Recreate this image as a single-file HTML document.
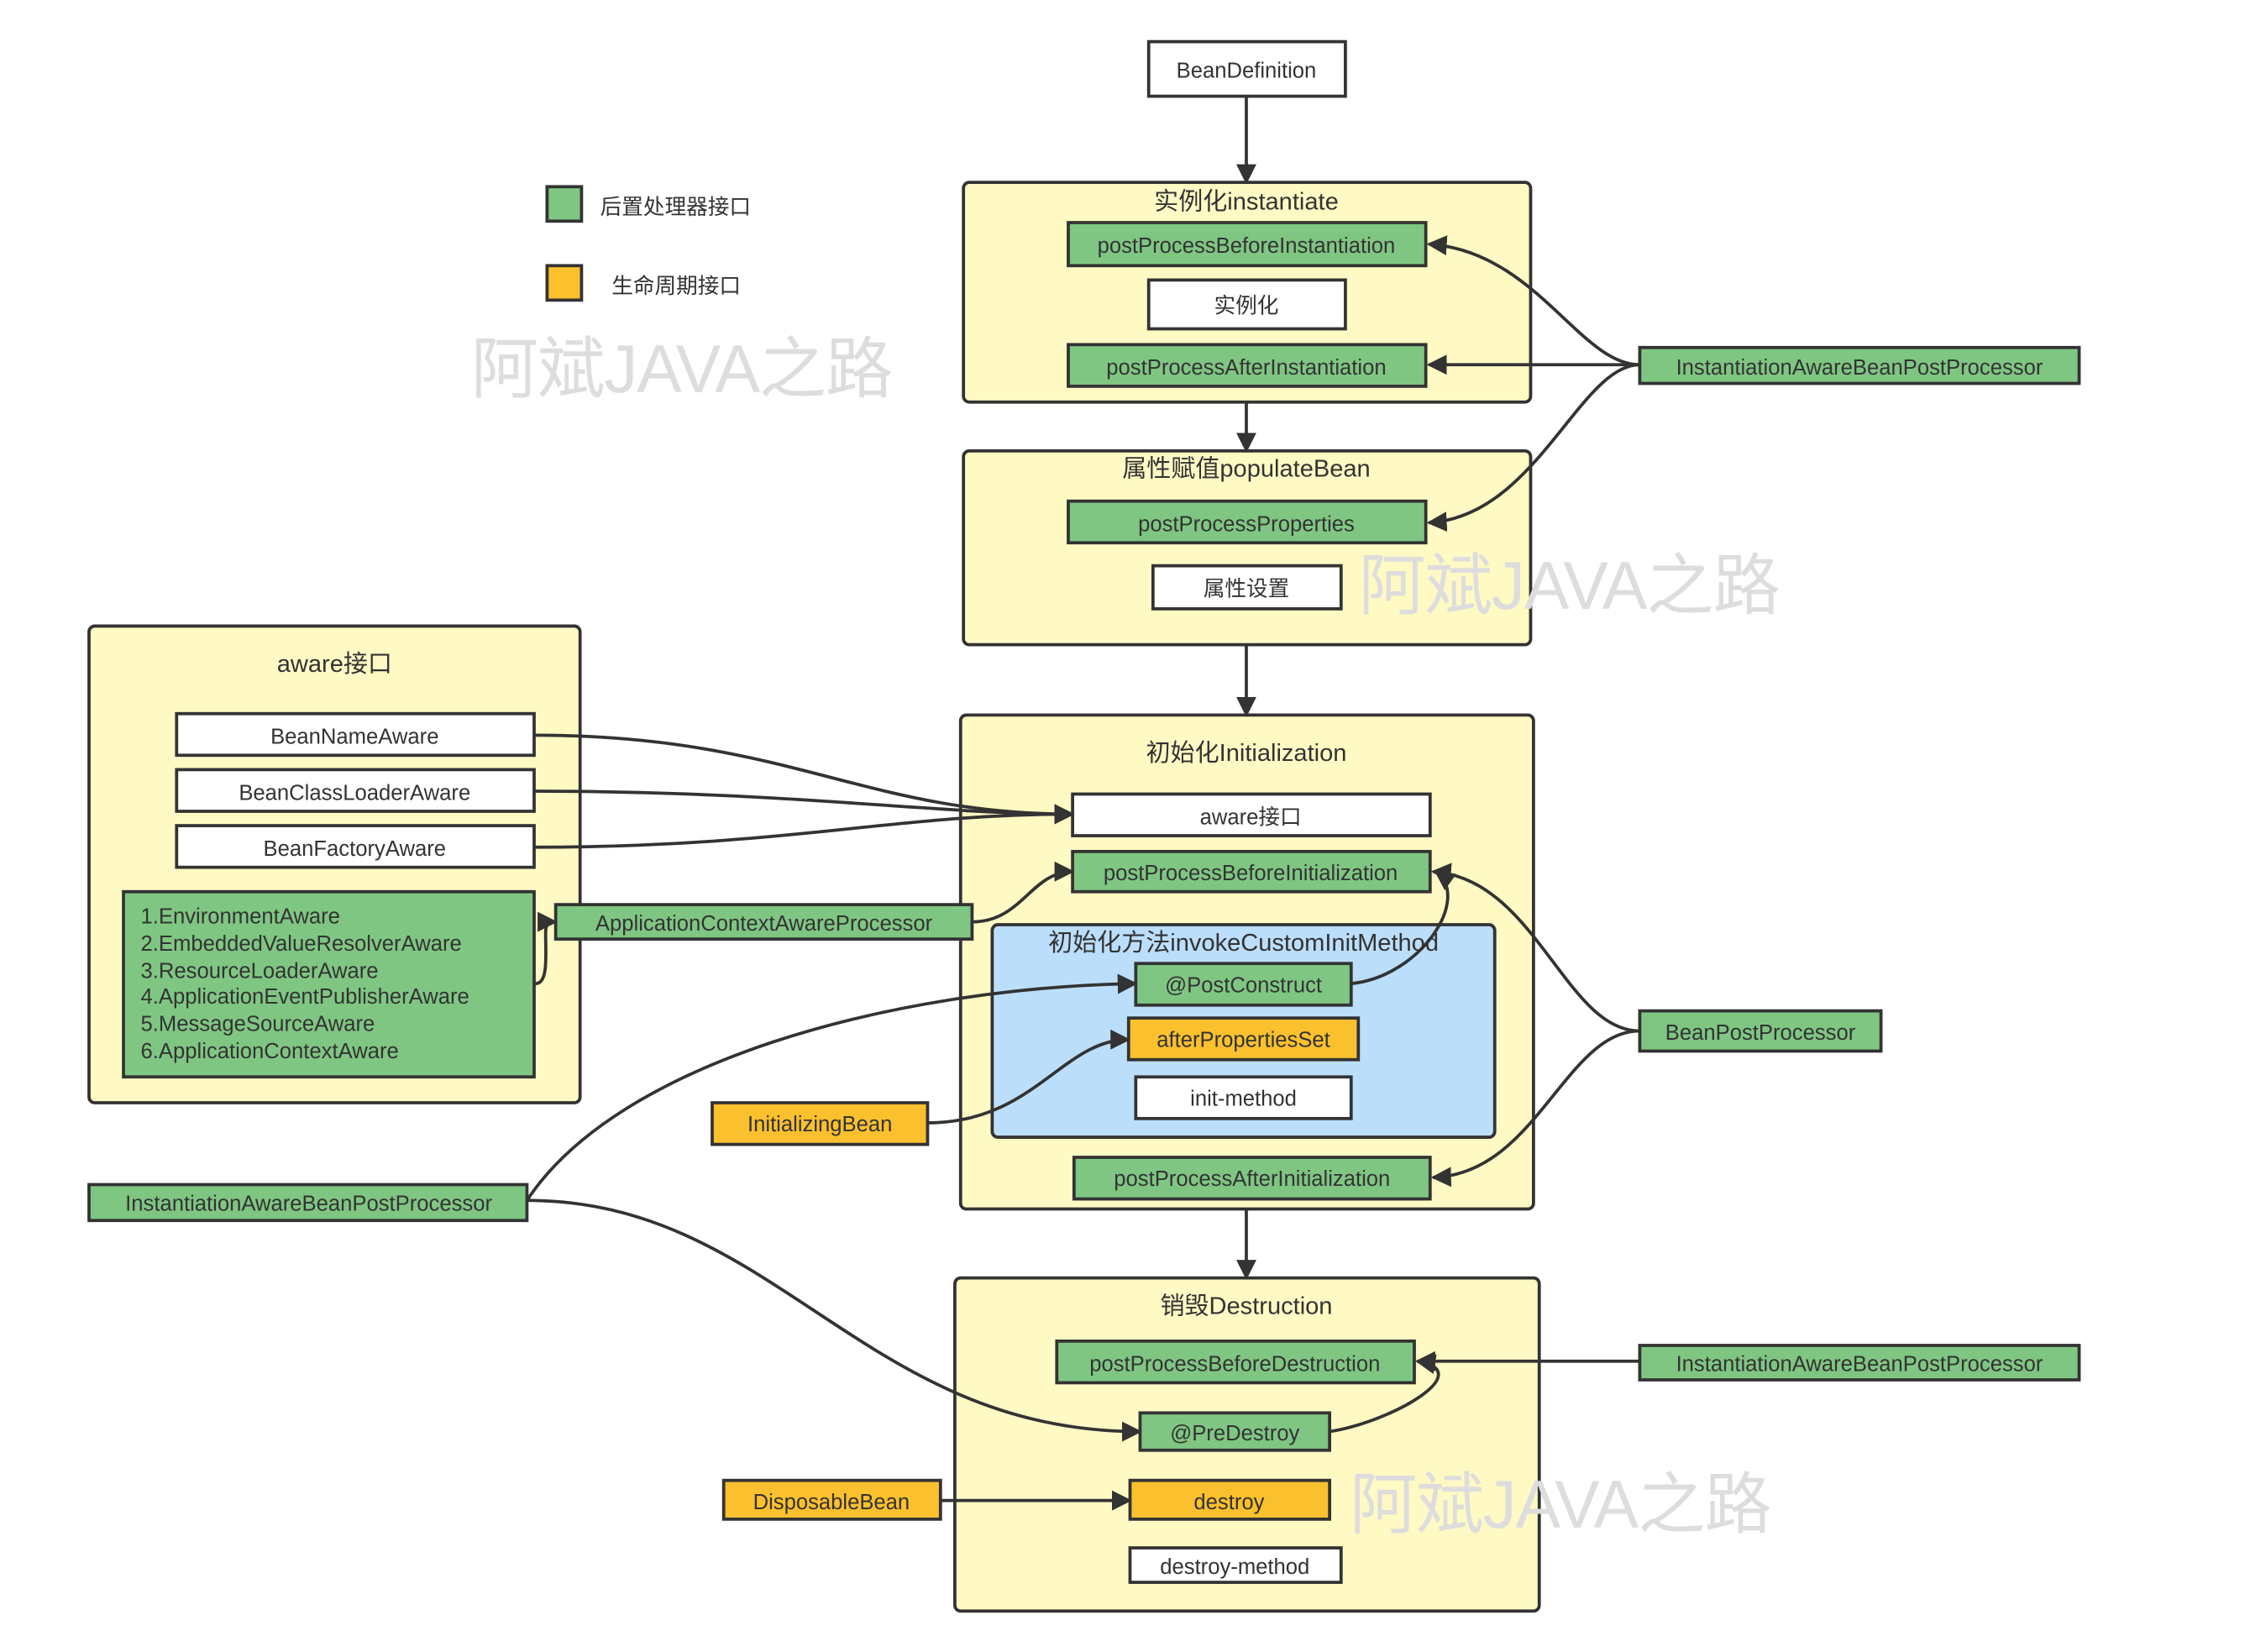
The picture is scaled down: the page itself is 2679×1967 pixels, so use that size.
<!DOCTYPE html>
<html><head><meta charset="utf-8"><style>
html,body{margin:0;padding:0;background:#fff;}
svg{display:block;}
text{font-family:"Liberation Sans","Noto Sans CJK SC",sans-serif;fill:#333;}
</style></head><body>
<svg width="2679" height="1967" viewBox="0 0 1567 1150.5" xmlns="http://www.w3.org/2000/svg">
<defs>
<marker id="b" viewBox="0 0 10 10" refX="9" refY="5" markerWidth="14" markerHeight="14" orient="auto" markerUnits="userSpaceOnUse">
<path d="M0,0 L10,5 L0,10 Z" fill="#333"/></marker>
</defs>
<g stroke="#333" stroke-width="2.2">
<rect x="671" y="127" width="395" height="153" rx="4" fill="#fff9c4"/>
<rect x="671" y="314" width="395" height="135" rx="4" fill="#fff9c4"/>
<rect x="62" y="436" width="342" height="332" rx="4" fill="#fff9c4"/>
<rect x="669" y="498" width="399" height="344" rx="4" fill="#fff9c4"/>
<rect x="691" y="644" width="350" height="148" rx="4" fill="#bbdefb"/>
<rect x="665" y="890" width="407" height="232" rx="4" fill="#fff9c4"/>
<rect x="800" y="29" width="137" height="38" fill="#fff"/>
<rect x="744" y="155" width="249" height="30" fill="#7fc682"/>
<rect x="800" y="195" width="137" height="34" fill="#fff"/>
<rect x="744" y="240" width="249" height="29" fill="#7fc682"/>
<rect x="1142" y="242" width="306" height="25" fill="#7fc682"/>
<rect x="744" y="349" width="249" height="29" fill="#7fc682"/>
<rect x="803" y="394" width="131" height="30" fill="#fff"/>
<rect x="123" y="497" width="249" height="29" fill="#fff"/>
<rect x="123" y="536" width="249" height="29" fill="#fff"/>
<rect x="123" y="575" width="249" height="29" fill="#fff"/>
<rect x="86" y="621" width="286" height="129" fill="#7fc682"/>
<rect x="387" y="630" width="290" height="24" fill="#7fc682"/>
<rect x="747" y="553" width="249" height="29" fill="#fff"/>
<rect x="747" y="593" width="249" height="28" fill="#7fc682"/>
<rect x="791" y="671" width="150" height="29" fill="#7fc682"/>
<rect x="786" y="709" width="160" height="29" fill="#fbc02d"/>
<rect x="791" y="750" width="150" height="29" fill="#fff"/>
<rect x="748" y="806" width="248" height="29" fill="#7fc682"/>
<rect x="1142" y="704" width="168" height="28" fill="#7fc682"/>
<rect x="496" y="768" width="150" height="29" fill="#fbc02d"/>
<rect x="62" y="825" width="305" height="25" fill="#7fc682"/>
<rect x="736" y="934" width="249" height="29" fill="#7fc682"/>
<rect x="794" y="984" width="132" height="26" fill="#7fc682"/>
<rect x="787" y="1031" width="139" height="27" fill="#fbc02d"/>
<rect x="787" y="1078" width="147" height="24" fill="#fff"/>
<rect x="1142" y="937" width="306" height="24" fill="#7fc682"/>
<rect x="504" y="1031" width="151" height="27" fill="#fbc02d"/>
<rect x="381" y="130" width="24" height="24" fill="#7fc682"/>
<rect x="381" y="185" width="24" height="24" fill="#fbc02d"/>
</g>
<g stroke="#333" stroke-width="2.2" fill="none" marker-end="url(#b)">
<path d="M868,67 L868,127"/>
<path d="M868,280 L868,314"/>
<path d="M868,449 L868,498"/>
<path d="M868,842 L868,890"/>
<path d="M1142,254 C1100,254 1070,175 995,170"/>
<path d="M1142,254 L995,254"/>
<path d="M1142,254 C1100,254 1070,360 995,364"/>
<path d="M372,512 C550,512 600,567 747,567"/>
<path d="M372,551 C550,551 650,567 747,567"/>
<path d="M372,590 C550,590 620,567 747,567"/>
<path d="M677,642 C712,642 718,607 747,607"/>
<path d="M373,685 C382,685 380,665 380,650 C380,642 382,642 387,642"/>
<path d="M1142,718 C1090,718 1070,612 998,607"/>
<path d="M1142,718 C1090,718 1070,818 998,820"/>
<path d="M941,685 C990,680 1025,625 1000,607"/>
<path d="M367,836 C430,740 620,688 791,685"/>
<path d="M367,836 C540,836 600,997 794,997"/>
<path d="M646,782 C720,782 740,724 786,724"/>
<path d="M926,997 C970,990 1030,955 987,948"/>
<path d="M1142,948 L987,948"/>
<path d="M655,1045 L787,1045"/>
</g>
<g style="font-size:47px">
<text x="328" y="273" textLength="294" style="fill:#ddd">阿斌JAVA之路</text>
<text x="946" y="424" textLength="294" style="fill:#ddd">阿斌JAVA之路</text>
<text x="940" y="1064" textLength="294" style="fill:#ddd">阿斌JAVA之路</text>
</g>
<g text-anchor="middle" style="font-size:15px">
<text x="868" y="54">BeanDefinition</text>
<text x="868" y="146" style="font-size:17px">实例化instantiate</text>
<text x="868" y="176">postProcessBeforeInstantiation</text>
<text x="868" y="218">实例化</text>
<text x="868" y="261">postProcessAfterInstantiation</text>
<text x="1295" y="261">InstantiationAwareBeanPostProcessor</text>
<text x="868" y="332" style="font-size:17px">属性赋值populateBean</text>
<text x="868" y="370">postProcessProperties</text>
<text x="868" y="415">属性设置</text>
<text x="233" y="468" style="font-size:17px">aware接口</text>
<text x="247" y="518">BeanNameAware</text>
<text x="247" y="557">BeanClassLoaderAware</text>
<text x="247" y="596">BeanFactoryAware</text>
<text x="532" y="648">ApplicationContextAwareProcessor</text>
<text x="868" y="530" style="font-size:17px">初始化Initialization</text>
<text x="871" y="574">aware接口</text>
<text x="871" y="613">postProcessBeforeInitialization</text>
<text x="866" y="662" style="font-size:17px">初始化方法invokeCustomInitMethod</text>
<text x="866" y="691">@PostConstruct</text>
<text x="866" y="729">afterPropertiesSet</text>
<text x="866" y="770">init-method</text>
<text x="872" y="826">postProcessAfterInitialization</text>
<text x="1226" y="724">BeanPostProcessor</text>
<text x="571" y="788">InitializingBean</text>
<text x="215" y="843">InstantiationAwareBeanPostProcessor</text>
<text x="868" y="915" style="font-size:17px">销毁Destruction</text>
<text x="860" y="955">postProcessBeforeDestruction</text>
<text x="860" y="1003">@PreDestroy</text>
<text x="856" y="1051">destroy</text>
<text x="860" y="1096">destroy-method</text>
<text x="1295" y="955">InstantiationAwareBeanPostProcessor</text>
<text x="579" y="1051">DisposableBean</text>
</g>
<g style="font-size:15px">
<text x="98" y="643">1.EnvironmentAware</text>
<text x="98" y="662">2.EmbeddedValueResolverAware</text>
<text x="98" y="681">3.ResourceLoaderAware</text>
<text x="98" y="699">4.ApplicationEventPublisherAware</text>
<text x="98" y="718">5.MessageSourceAware</text>
<text x="98" y="737">6.ApplicationContextAware</text>
<text x="418" y="149">后置处理器接口</text>
<text x="426" y="204">生命周期接口</text>
</g>
</svg>
</body></html>
